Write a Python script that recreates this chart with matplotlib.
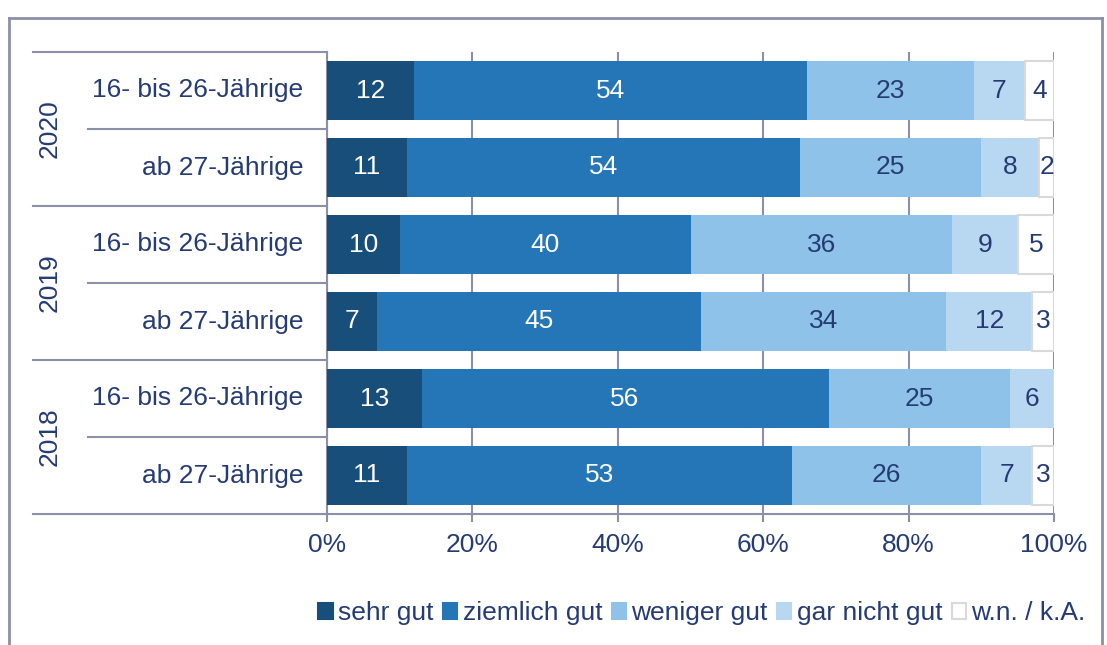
import matplotlib.pyplot as plt
import matplotlib.transforms as mtransforms
from matplotlib.patches import Patch
import numpy as np

plt.rcParams['font.family'] = ['Liberation Sans', 'DejaVu Sans']

# data (rows from top to bottom)
years = ['2020', '2019', '2018']
groups = ['16- bis 26-Jährige', 'ab 27-Jährige']
series = ['sehr gut', 'ziemlich gut', 'weniger gut', 'gar nicht gut', 'w.n. / k.A.']
sehr_gut = [12, 11, 10, 7, 13, 11]
ziemlich_gut = [54, 54, 40, 45, 56, 53]
weniger_gut = [23, 25, 36, 34, 25, 26]
gar_nicht_gut = [7, 8, 9, 12, 6, 7]
wn_ka = [4, 2, 5, 3, 0, 3]

colors = ['#174e7a', '#2476b7', '#8ec2e8', '#b8d8f1', '#ffffff']
edges = ['none', 'none', 'none', 'none', '#d9d9d9']
text_colors = ['white', 'white', '#253b74', '#253b74', '#253b74']
navy = '#253b74'
grey = '#8c8fa8'
fs = 19

W, H = 1107, 645
fig = plt.figure(figsize=(W / 100, H / 100), dpi=100)
ax = fig.add_axes([327 / W, 1 - 514 / H, 727 / W, 462 / H])

vals = np.array([sehr_gut, ziemlich_gut, weniger_gut, gar_nicht_gut, wn_ka], dtype=float)
shares = vals / vals.sum(axis=0) * 100
y = np.arange(6) + 0.5
left = np.zeros(6)
for i, name in enumerate(series):
    ax.barh(y, shares[i], left=left, height=0.76, color=colors[i],
            edgecolor=edges[i], linewidth=1.5, zorder=3, label=name)
    for yy, l, s, v in zip(y, left, shares[i], vals[i]):
        if v > 0:
            ax.text(l + s / 2, yy, f'{int(v)}', ha='center', va='center',
                    fontsize=fs, color=text_colors[i], zorder=4)
    left += shares[i]

ax.set_xlim(0, 100)
ax.set_ylim(6, 0)
ax.set_yticks([])
ax.set_xticks([0, 20, 40, 60, 80, 100])
ax.set_xticklabels(['0%', '20%', '40%', '60%', '80%', '100%'])
ax.tick_params(axis='x', length=6, width=1.5, color=grey, labelsize=fs,
               labelcolor=navy, pad=8)
ax.grid(axis='x', color=grey, linewidth=1.5, zorder=0)
for s in ['top', 'right']:
    ax.spines[s].set_visible(False)
for s in ['left', 'bottom']:
    ax.spines[s].set_color(grey)
    ax.spines[s].set_linewidth(1.5)

# category axis: row labels, year labels and separators
trans = mtransforms.blended_transform_factory(fig.transFigure, ax.transData)
for k in range(4):
    ax.plot([33 / W, 327 / W], [2 * k, 2 * k], transform=trans, color=grey,
            lw=1.5, clip_on=False)
for k in range(3):
    ax.plot([88 / W, 327 / W], [2 * k + 1, 2 * k + 1], transform=trans,
            color=grey, lw=1.5, clip_on=False)
for k, yr in enumerate(years):
    ax.text(50 / W, 2 * k + 1, yr, transform=trans, rotation=90, ha='center',
            va='center', fontsize=fs, color=navy)
    for j, g in enumerate(groups):
        ax.text(303 / W, 2 * k + j + 0.5, g, transform=trans, ha='right',
                va='center', fontsize=fs, color=navy)

# outer frame
fig.add_artist(plt.Line2D([9 / W, 9 / W], [0, 1 - 18 / H], color=grey, lw=2))
fig.add_artist(plt.Line2D([9 / W, 1102 / W], [1 - 18 / H, 1 - 18 / H], color=grey, lw=2))
fig.add_artist(plt.Line2D([1102 / W, 1102 / W], [0, 1 - 18 / H], color=grey, lw=2))

handles = [Patch(facecolor=colors[i], edgecolor=(edges[i] if i == 4 else colors[i]),
                 linewidth=1.5, label=series[i]) for i in range(5)]
fig.legend(handles=handles, loc='center', bbox_to_anchor=(702 / W, 1 - 613 / H),
           ncol=5, frameon=False, fontsize=fs, handlelength=0.55, handleheight=0.55,
           handletextpad=0.2, columnspacing=0.35, labelcolor=navy,
           borderpad=0, borderaxespad=0)

fig.savefig('out.png', dpi=100)
